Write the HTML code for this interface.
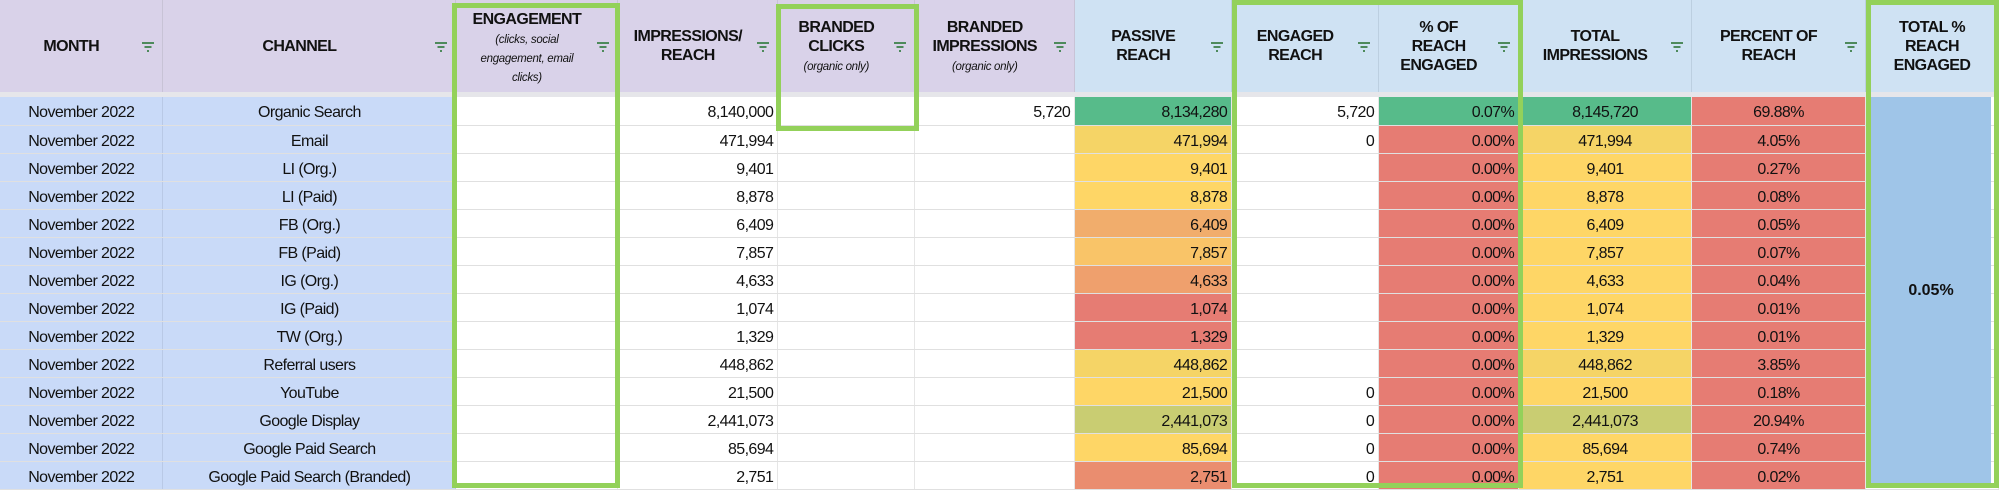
<!DOCTYPE html>
<html><head><meta charset="utf-8"><style>
html,body{margin:0;padding:0;width:1999px;height:490px;overflow:hidden;background:#fff}
body{position:relative;font-family:"Liberation Sans",sans-serif;color:#111}
table{border-collapse:collapse;table-layout:fixed;position:absolute;left:0;top:0}
td,th{padding:0 4px;overflow:hidden;white-space:nowrap;font-size:16px;letter-spacing:-0.6px;box-sizing:border-box}
th{height:92px;font-weight:bold;font-size:16px;line-height:19px;position:relative;border-right:1px solid #c8c3d6;text-align:center;padding:0 22px 0 2px}
th.p{background:#d9d2e9}
th.b{background:#cfe2f3;border-right-color:#bccfe0}
th i{font-weight:normal;font-size:11.5px;line-height:14px;letter-spacing:-0.3px}
tr.sep td{height:5px;background:#e6e6ea;padding:0;border:none;font-size:0;line-height:0}
tr.r td{height:28px;line-height:22px;padding-top:5px;padding-bottom:0;vertical-align:top;border-bottom:1px solid #e0e0e0;border-right:1px solid #e6e6e6;text-align:right}
td.m{background:#c9daf8;text-align:center!important;border-right-color:#b9c9e6!important}
td.c{text-align:center!important}
.f{position:absolute;right:8px;top:42px;width:12px;height:9px}
.f:before,.f:after,.f span{content:"";position:absolute;height:2px;background:#4e8a5c;left:50%;transform:translateX(-50%)}
.f:before{top:0;width:12px}.f span{top:4px;width:7px}.f:after{top:8px;width:2px}
.g{background:#57bb8a}.y{background:#fed666}.y2{background:#f5d466}.o{background:#f1ad6c}.o2{background:#f9c468}.o3{background:#efa06d}
.rd{background:#e67c73}.ol{background:#c9cd72}.o4{background:#ea8d6f}
.box{position:absolute;border:5px solid #93d15a;box-sizing:border-box}
.tot{position:absolute;left:1871px;top:97px;width:120px;height:388px;background:#9fc5e8;display:flex;align-items:center;justify-content:center;font-weight:bold;font-size:16px}
</style></head><body>
<table>
<colgroup><col style="width:163px"><col style="width:293px"><col style="width:162px"><col style="width:160px"><col style="width:137px"><col style="width:160px"><col style="width:157px"><col style="width:147px"><col style="width:140px"><col style="width:173px"><col style="width:174px"><col style="width:133px"></colgroup>
<tr>
<th class="p">MONTH<div class="f"><span></span></div></th>
<th class="p">CHANNEL<div class="f"><span></span></div></th>
<th class="p" style="vertical-align:top;padding-top:10px">ENGAGEMENT<br><i>(clicks, social<br>engagement, email<br>clicks)</i><div class="f"><span></span></div></th>
<th class="p">IMPRESSIONS/<br>REACH<div class="f"><span></span></div></th>
<th class="p">BRANDED<br>CLICKS<br><i>(organic only)</i><div class="f"><span></span></div></th>
<th class="p">BRANDED<br>IMPRESSIONS<br><i>(organic only)</i><div class="f"><span></span></div></th>
<th class="b">PASSIVE<br>REACH<div class="f"><span></span></div></th>
<th class="b">ENGAGED<br>REACH<div class="f"><span></span></div></th>
<th class="b">% OF<br>REACH<br>ENGAGED<div class="f"><span></span></div></th>
<th class="b">TOTAL<br>IMPRESSIONS<div class="f"><span></span></div></th>
<th class="b">PERCENT OF<br>REACH<div class="f"><span></span></div></th>
<th class="b" style="padding:0 4px">TOTAL %<br>REACH<br>ENGAGED</th>
</tr>
<tr class="sep"><td colspan="12"></td></tr>
<tr class="r"><td class="m">November 2022</td><td class="m">Organic Search</td><td></td><td>8,140,000</td><td></td><td>5,720</td><td class="g">8,134,280</td><td>5,720</td><td class="g">0.07%</td><td class="c g">8,145,720</td><td class="c rd">69.88%</td><td></td></tr>
<tr class="r"><td class="m">November 2022</td><td class="m">Email</td><td></td><td>471,994</td><td></td><td></td><td class="y2">471,994</td><td>0</td><td class="rd">0.00%</td><td class="c y2">471,994</td><td class="c rd">4.05%</td><td></td></tr>
<tr class="r"><td class="m">November 2022</td><td class="m">LI (Org.)</td><td></td><td>9,401</td><td></td><td></td><td class="y">9,401</td><td></td><td class="rd">0.00%</td><td class="c y">9,401</td><td class="c rd">0.27%</td><td></td></tr>
<tr class="r"><td class="m">November 2022</td><td class="m">LI (Paid)</td><td></td><td>8,878</td><td></td><td></td><td class="y">8,878</td><td></td><td class="rd">0.00%</td><td class="c y">8,878</td><td class="c rd">0.08%</td><td></td></tr>
<tr class="r"><td class="m">November 2022</td><td class="m">FB (Org.)</td><td></td><td>6,409</td><td></td><td></td><td class="o">6,409</td><td></td><td class="rd">0.00%</td><td class="c y">6,409</td><td class="c rd">0.05%</td><td></td></tr>
<tr class="r"><td class="m">November 2022</td><td class="m">FB (Paid)</td><td></td><td>7,857</td><td></td><td></td><td class="o2">7,857</td><td></td><td class="rd">0.00%</td><td class="c y">7,857</td><td class="c rd">0.07%</td><td></td></tr>
<tr class="r"><td class="m">November 2022</td><td class="m">IG (Org.)</td><td></td><td>4,633</td><td></td><td></td><td class="o3">4,633</td><td></td><td class="rd">0.00%</td><td class="c y">4,633</td><td class="c rd">0.04%</td><td></td></tr>
<tr class="r"><td class="m">November 2022</td><td class="m">IG (Paid)</td><td></td><td>1,074</td><td></td><td></td><td class="rd">1,074</td><td></td><td class="rd">0.00%</td><td class="c y">1,074</td><td class="c rd">0.01%</td><td></td></tr>
<tr class="r"><td class="m">November 2022</td><td class="m">TW (Org.)</td><td></td><td>1,329</td><td></td><td></td><td class="rd">1,329</td><td></td><td class="rd">0.00%</td><td class="c y">1,329</td><td class="c rd">0.01%</td><td></td></tr>
<tr class="r"><td class="m">November 2022</td><td class="m">Referral users</td><td></td><td>448,862</td><td></td><td></td><td class="y2">448,862</td><td></td><td class="rd">0.00%</td><td class="c y2">448,862</td><td class="c rd">3.85%</td><td></td></tr>
<tr class="r"><td class="m">November 2022</td><td class="m">YouTube</td><td></td><td>21,500</td><td></td><td></td><td class="y">21,500</td><td>0</td><td class="rd">0.00%</td><td class="c y">21,500</td><td class="c rd">0.18%</td><td></td></tr>
<tr class="r"><td class="m">November 2022</td><td class="m">Google Display</td><td></td><td>2,441,073</td><td></td><td></td><td class="ol">2,441,073</td><td>0</td><td class="rd">0.00%</td><td class="c ol">2,441,073</td><td class="c rd">20.94%</td><td></td></tr>
<tr class="r"><td class="m">November 2022</td><td class="m">Google Paid Search</td><td></td><td>85,694</td><td></td><td></td><td class="y">85,694</td><td>0</td><td class="rd">0.00%</td><td class="c y">85,694</td><td class="c rd">0.74%</td><td></td></tr>
<tr class="r"><td class="m">November 2022</td><td class="m">Google Paid Search (Branded)</td><td></td><td>2,751</td><td></td><td></td><td class="o4">2,751</td><td>0</td><td class="rd">0.00%</td><td class="c y">2,751</td><td class="c rd">0.02%</td><td></td></tr>
</table>
<div class="tot">0.05%</div>
<div class="box" style="left:452px;top:3px;width:168px;height:485px"></div>
<div class="box" style="left:776px;top:4px;width:143px;height:127px"></div>
<div class="box" style="left:1232px;top:0;width:291px;height:488px"></div>
<div class="box" style="left:1866px;top:0;width:133px;height:488px"></div>
</body></html>
